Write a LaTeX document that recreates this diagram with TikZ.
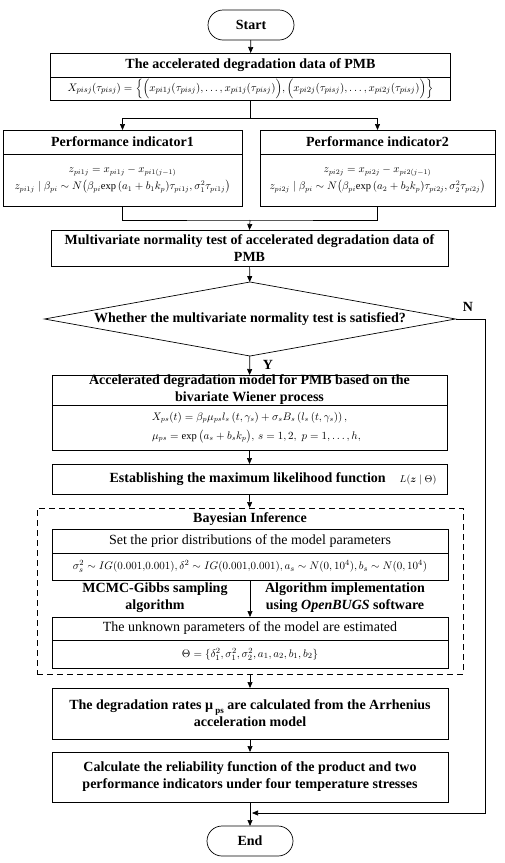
\documentclass[tikz,border=0pt]{standalone}
\usepackage{amsmath}
\usepackage{fontspec}
\setmainfont{Liberation Serif}
\usetikzlibrary{arrows.meta,shapes.geometric,shapes.misc}
\begin{document}
\begin{tikzpicture}[x=1pt,y=-1pt,
  every node/.style={inner sep=0pt, outer sep=0pt, align=center},
  bx/.style={draw, line width=0.7pt, minimum width=#1},
  ttl/.style={font=\fontsize{14}{17}\selectfont\bfseries},
  reg/.style={font=\fontsize{14}{17}\selectfont},
  mth/.style={font=\fontsize{11}{14}\selectfont},
  mths/.style={font=\fontsize{10.5}{13}\selectfont},
  term/.style={draw, line width=0.7pt, rounded rectangle, minimum width=86, minimum height=30, font=\fontsize{14}{17}\selectfont\bfseries},
  arr/.style={line width=0.7pt, -{Triangle[length=6pt,width=5pt]}},
  ln/.style={line width=0.7pt}]
\useasboundingbox (0,0) rectangle (504,863);

\node[term] (start) at (251,25) {Start};

\node[bx=400, minimum height=24, ttl] (dataT) at (250.5,65) {The accelerated degradation data of PMB};
\node[bx=400, minimum height=23, mth] (dataB) at (250.5,88.5) {$X_{pisj}(\tau_{pisj})=\Big\{\Big(x_{pi1j}(\tau_{pisj}),\ldots,x_{pi1j}(\tau_{pisj})\Big),\Big(x_{pi2j}(\tau_{pisj}),\ldots,x_{pi2j}(\tau_{pisj})\Big)\Big\}$};

\node[bx=239, minimum height=24, ttl] (pi1T) at (122.5,142) {Performance indicator1};
\node[bx=239, minimum height=52, mths] (pi1B) at (122.5,180) {$z_{pi1j}=x_{pi1j}-x_{pi1(j-1)}$\\[4pt]$z_{pi1j}\mid\beta_{pi}\sim N\big(\beta_{pi}\mathrm{exp}\,(a_1+b_1k_p)\tau_{pi1j},\sigma_1^2\tau_{pi1j}\big)$};
\node[bx=235, minimum height=24, ttl] (pi2T) at (377.5,142) {Performance indicator2};
\node[bx=235, minimum height=52, mths] (pi2B) at (377.5,180) {$z_{pi2j}=x_{pi2j}-x_{pi2(j-1)}$\\[4pt]$z_{pi2j}\mid\beta_{pi}\sim N\big(\beta_{pi}\mathrm{exp}\,(a_2+b_2k_p)\tau_{pi2j},\sigma_2^2\tau_{pi2j}\big)$};

\node[bx=397, minimum height=36, ttl] (mvt) at (249.5,248) {Multivariate normality test of accelerated degradation data of\\PMB};

\node[draw, line width=0.7pt, diamond, aspect=5.55, minimum width=411, minimum height=74, ttl] (dia) at (250,319) {Whether the multivariate normality test is satisfied?};
\node[ttl] (nlab) at (468,307) {N};
\node[ttl] (ylab) at (268,365) {Y};

\node[bx=395, minimum height=30, ttl] (accT) at (249.5,390) {Accelerated degradation model for PMB based on the\\bivariate Wiener process};
\node[bx=395, minimum height=45, mths] (accB) at (249.5,427.5) {$X_{ps}(t)=\beta_p\mu_{ps}l_s\,(t,\gamma_s)+\sigma_sB_s\,(l_s\,(t,\gamma_s))\,,$\hspace{14pt}\\[6pt]\hspace{14pt}$\mu_{ps}=\exp\big(a_s+b_sk_p\big),\,s=1,2,\;p=1,\ldots,h,$};

\node[bx=395, minimum height=30, ttl] (lik) at (249.5,479) {\hspace{47pt}Establishing the maximum likelihood function\quad{\normalfont\fontsize{10}{12}\selectfont$L(\boldsymbol{z}\mid\Theta)$}};

\node[draw, dash pattern=on 6pt off 4pt, line width=0.7pt, minimum width=426, minimum height=166] (bay) at (250,591) {};
\node[ttl] (bayl) at (250,519) {Bayesian Inference};
\node[bx=396, minimum height=24, reg] (priT) at (250,541) {Set the prior distributions of the model parameters};
\node[bx=396, minimum height=27, mth] (priB) at (250,566.5) {$\sigma_s^2\sim IG(0.001{,}0.001),\delta^2\sim IG(0.001{,}0.001),a_s\sim N(0,10^4),b_s\sim N(0,10^4)$};
\node[ttl] (mcmc) at (155,597.5) {MCMC-Gibbs sampling\\algorithm};
\node[ttl] (bugs) at (345,597.5) {Algorithm implementation\\using \textit{OpenBUGS} software};
\node[bx=396, minimum height=23, reg] (unkT) at (250,628.5) {The unknown parameters of the model are estimated};
\node[bx=396, minimum height=28, mth] (unkB) at (250,654) {$\Theta=\{\delta_1^2,\sigma_1^2,\sigma_2^2,a_1,a_2,b_1,b_2\}$};

\node[bx=396, minimum height=51, ttl] (rate) at (250,713.5) {The degradation rates \textmu\,\raisebox{-0.5ex}{\fontsize{9}{10}\selectfont ps} are calculated from the Arrhenius\\acceleration model};
\node[bx=396, minimum height=50, ttl] (calc) at (250,777) {Calculate the reliability function of the product and two\\performance indicators under four temperature stresses};

\node[term] (end) at (250,841) {End};

\coordinate (j0) at (250.5,118);
\coordinate (j1) at (250,220);
\coordinate (nr) at (485,319);
\coordinate (je) at (252,813);

\draw[arr] (start) -- (dataT);
\draw[ln] (dataB.south) -- (j0);
\draw[arr] (j0) -| (pi1T.north);
\draw[arr] (j0) -| (pi2T.north);
\draw[ln] (pi1B.south) |- (j1) -| (pi2B.south);
\draw[arr] (j1) -- (mvt.north);
\draw[arr] (mvt) -- (dia);
\draw[arr] (dia) -- (accT);
\draw[arr] (accB) -- (lik);
\draw[arr] (lik) -- (bay);
\draw[arr] (priB) -- (unkT);
\draw[arr] (bay) -- (rate);
\draw[arr] (rate) -- (calc);
\draw[arr] (calc) -- (end);
\draw[arr] (dia.east) -- (nr) |- (je);
\end{tikzpicture}
\end{document}
